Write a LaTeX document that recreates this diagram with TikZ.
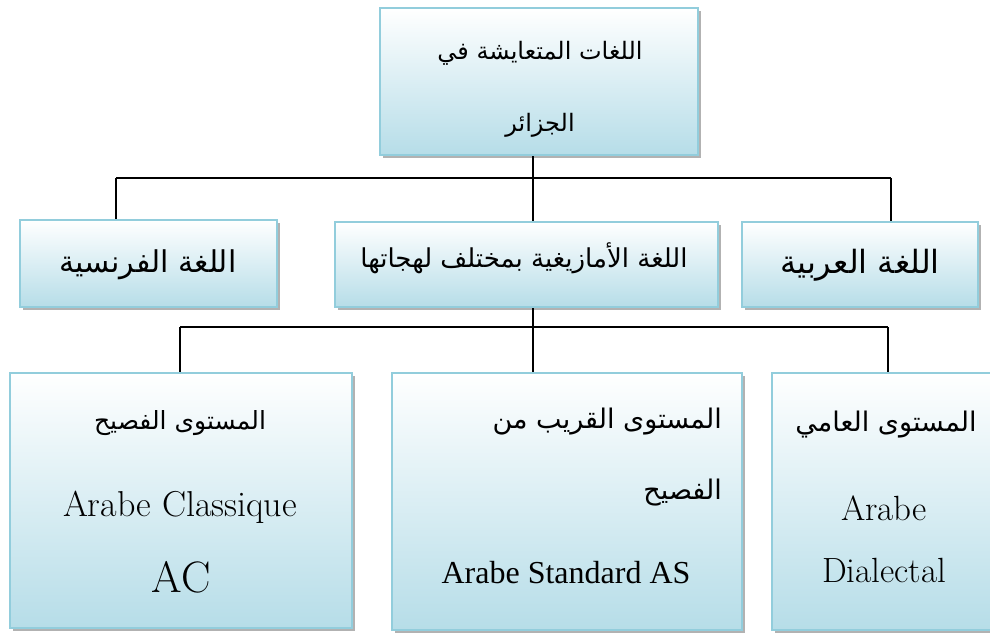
\documentclass[tikz,border=0pt]{standalone}
\usepackage{fontspec}
\usetikzlibrary{shadows}
\TeXXeTstate=1
\newfontfamily\arabicfont[Script=Arabic]{DejaVu Sans}
\newfontfamily\timesfont{Liberation Serif}
\definecolor{boxedge}{HTML}{92CDDC}
\definecolor{boxfill}{HTML}{B6DDE8}

\begin{document}
\begin{tikzpicture}[x=1pt,y=-1pt,
  box/.style={draw=boxedge, line width=2pt, top color=white, bottom color=boxfill,
    inner sep=0pt, general shadow={fill=gray!60, shadow xshift=3pt, shadow yshift=-3pt}},
  link/.style={line width=1.5pt, black},
  ar/.style={font=\arabicfont\fontsize{#1}{#1}\selectfont, inner sep=0pt},
  lat/.style={font=\fontsize{#1}{#1}\selectfont, inner sep=0pt},
  tms/.style={font=\timesfont\fontsize{#1}{#1}\selectfont, inner sep=0pt},
]
\useasboundingbox (0,0) rectangle (990,634);

% boxes
\node[box, minimum width=318pt, minimum height=147pt] (top) at (539,81.5) {};
\node[box, minimum width=257pt, minimum height=87pt] (fr) at (148.5,263.5) {};
\node[box, minimum width=383pt, minimum height=85pt] (am) at (526.5,264.5) {};
\node[box, minimum width=236pt, minimum height=85pt] (arb) at (860,264.5) {};
\node[box, minimum width=342pt, minimum height=255pt] (cl) at (181,500.5) {};
\node[box, minimum width=350pt, minimum height=257pt] (st) at (567,501.5) {};
\node[box, minimum width=238pt, minimum height=257pt] (di) at (891,501.5) {};

% connectors
\coordinate (ja) at (533,178);
\coordinate (jl) at (116,178);
\coordinate (jr) at (891,178);
\draw[link] (top.south -| ja) -- (ja);
\draw[link] (jl) -- (jr);
\draw[link] (jl) -- (fr.north -| jl);
\draw[link] (jr) -- (arb.north -| jr);
\draw[link] (ja) -- (am.north -| ja);
\coordinate (kb) at (533,327);
\coordinate (kl) at (180,327);
\coordinate (kr) at (888,327);
\draw[link] (am.south -| kb) -- (kb);
\draw[link] (kl) -- (kr);
\draw[link] (kl) -- (cl.north -| kl);
\draw[link] (kb) -- (st.north -| kb);
\draw[link] (kr) -- (di.north -| kr);

% texts
\node[ar=24] (t1) at (540,53) {\beginR اللغات المتعايشة في\endR};
\node[ar=24] (t2) at (540,125) {\beginR الجزائر\endR};
\node[ar=30] (frt) at (148,265) {\beginR اللغة الفرنسية\endR};
\node[ar=26] (amt) at (524,258) {\beginR اللغة الأمازيغية بمختلف لهجاتها\endR};
\node[ar=32] (arbt) at (860,265) {\beginR اللغة العربية\endR};
\node[ar=25] (cl1) at (180,423) {\beginR المستوى الفصيح\endR};
\node[lat=36] (cl2) at (180,507) {Arabe Classique};
\node[lat=44] (cl3) at (181,577) {AC};
\node[ar=27, anchor=east] (st1) at (722,422) {\beginR المستوى القريب من\endR};
\node[ar=27, anchor=east] (st2) at (722,493) {\beginR الفصيح\endR};
\node[tms=32] (st3) at (566,573) {Arabe Standard AS};
\node[ar=27] (di1) at (886,425) {\beginR المستوى العامي\endR};
\node[lat=35] (di2) at (884,508) {Arabe};
\node[lat=35] (di3) at (884,570) {Dialectal};
\end{tikzpicture}
\end{document}
